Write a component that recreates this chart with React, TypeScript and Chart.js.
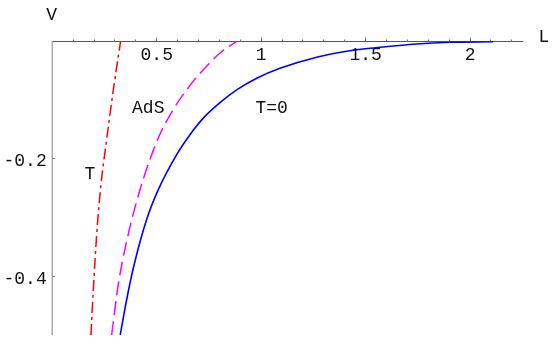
import { useEffect, useRef } from "react";
import { Chart, registerables } from "chart.js";

Chart.register(...registerables);

// T=0 curve (solid blue)
const t0L = [0.325, 0.356, 0.388, 0.452, 0.507, 0.5955, 0.659, 0.7228, 0.8028, 0.8827, 0.9785, 1.09, 1.266, 1.425, 1.584, 1.744, 1.904, 2.11];
const t0V = [-0.5, -0.44, -0.386, -0.303, -0.253, -0.193, -0.159, -0.1308, -0.1045, -0.0828, -0.0629, -0.0459, -0.027, -0.016, -0.0097, -0.0046, -0.0017, -0.0007];

// AdS curve (dashed magenta)
const adsL = [0.284, 0.316, 0.356, 0.42, 0.507, 0.579, 0.627, 0.675, 0.731, 0.803, 0.883];
const adsV = [-0.5, -0.414, -0.3405, -0.2527, -0.165, -0.1162, -0.0907, -0.068, -0.0455, -0.0199, 0];

// T curve (dash-dot red)
const tL = [0.185, 0.196, 0.2125, 0.233, 0.26, 0.292, 0.327];
const tV = [-0.5, -0.4255, -0.329, -0.244, -0.168, -0.083, 0];

// Axis ticks
const xMinorTicks = [0.1, 0.2, 0.3, 0.4, 0.5, 0.6, 0.7, 0.8, 0.9, 1, 1.1, 1.2, 1.3, 1.4, 1.5, 1.6, 1.7, 1.8, 1.9, 2, 2.1, 2.2];
const xTickValues = [0.5, 1, 1.5, 2];
const xTickLabels = ["0.5", "1", "1.5", "2"];
const yTickValues = [-0.2, -0.4];
const yTickLabels = ["-0.2", "-0.4"];

// In-plot labels (center x, baseline y in data units)
const labelTexts = ["AdS", "T=0", "T"];
const labelL = [0.4595, 1.05, 0.1805];
const labelV = [-0.1223, -0.1223, -0.234];

const FONT = '18px "Liberation Mono", "Courier New", monospace';

const overlay = {
  id: "overlay",
  beforeDatasetsDraw(chart: any) {
    const ctx = chart.ctx as CanvasRenderingContext2D;
    const xs = chart.scales.x;
    const ys = chart.scales.y;
    const x0 = xs.getPixelForValue(0);
    const y0 = ys.getPixelForValue(0);
    const yb = ys.getPixelForValue(-0.5);
    const xr = chart.chartArea.right;
    ctx.save();
    // x axis
    const yl = Math.round(y0 - 0.5) + 0.5;
    ctx.strokeStyle = "#555";
    ctx.lineWidth = 1;
    ctx.beginPath();
    ctx.moveTo(x0, yl);
    ctx.lineTo(xr, yl);
    ctx.stroke();
    // x ticks
    ctx.strokeStyle = "#777";
    for (const v of xMinorTicks) {
      const px = Math.round(xs.getPixelForValue(v) - 0.5) + 0.5;
      const major = xTickValues.some((t) => Math.abs(t - v) < 1e-9);
      ctx.beginPath();
      ctx.moveTo(px, yl);
      ctx.lineTo(px, yl - (major ? 4 : 2));
      ctx.stroke();
    }
    // y axis
    ctx.strokeStyle = "#aaa";
    ctx.lineWidth = 1.5;
    ctx.beginPath();
    ctx.moveTo(x0, y0);
    ctx.lineTo(x0, yb);
    ctx.stroke();
    ctx.lineWidth = 1;
    ctx.strokeStyle = "#888";
    for (const v of yTickValues) {
      const py = Math.round(ys.getPixelForValue(v) - 0.5) + 0.5;
      ctx.beginPath();
      ctx.moveTo(x0, py);
      ctx.lineTo(x0 + 3, py);
      ctx.stroke();
    }
    // tick labels
    ctx.fillStyle = "#111";
    ctx.font = FONT;
    ctx.textBaseline = "alphabetic";
    ctx.textAlign = "center";
    xTickValues.forEach((v, i) => {
      ctx.fillText(xTickLabels[i], xs.getPixelForValue(v), y0 + 19);
    });
    ctx.textAlign = "right";
    yTickValues.forEach((v, i) => {
      ctx.fillText(yTickLabels[i], x0 - 5.6, ys.getPixelForValue(v) + 7.4);
    });
    // axis names
    ctx.textAlign = "center";
    ctx.fillText("V", x0 - 0.6, y0 - 21.5);
    ctx.fillText("L", xr + 20.7, y0 + 0.4);
    ctx.restore();
  },
  afterDatasetsDraw(chart: any) {
    const ctx = chart.ctx as CanvasRenderingContext2D;
    const xs = chart.scales.x;
    const ys = chart.scales.y;
    ctx.save();
    ctx.fillStyle = "#111";
    ctx.font = FONT;
    ctx.textAlign = "center";
    ctx.textBaseline = "alphabetic";
    labelTexts.forEach((t, i) => {
      ctx.fillText(t, xs.getPixelForValue(labelL[i]), ys.getPixelForValue(labelV[i]));
    });
    ctx.restore();
  },
};

const toPts = (xs: number[], ys: number[]) => xs.map((x, i) => ({ x, y: ys[i] }));

export default function App() {
  const ref = useRef<HTMLCanvasElement>(null);
  useEffect(() => {
    document.body.style.margin = "0";
    const chart = new Chart(ref.current!, {
      type: "scatter",
      data: {
        datasets: [
          {
            data: toPts(t0L, t0V),
            showLine: true,
            borderColor: "#0000ff",
            borderWidth: 1.6,
            pointRadius: 0,
            cubicInterpolationMode: "monotone",
          },
          {
            data: toPts(adsL, adsV),
            showLine: true,
            borderColor: "#ff00ff",
            borderWidth: 1.5,
            borderDash: [14, 6],
            pointRadius: 0,
            cubicInterpolationMode: "monotone",
          },
          {
            data: toPts(tL, tV),
            showLine: true,
            borderColor: "#ff0000",
            borderWidth: 1.5,
            borderDash: [11, 4, 3, 4],
            pointRadius: 0,
            cubicInterpolationMode: "monotone",
          },
        ],
      } as any,
      options: {
        animation: false,
        responsive: false,
        events: [],
        layout: { padding: { left: 52.3, right: 30.7, top: 41.3, bottom: 11 } },
        scales: {
          x: { type: "linear", min: 0, max: 2.255, display: false },
          y: { type: "linear", min: -0.5, max: 0, display: false },
        },
        plugins: { legend: { display: false }, tooltip: { enabled: false } },
      },
      plugins: [overlay],
    });
    return () => chart.destroy();
  }, []);
  return (
    <div style={{ width: 554, height: 346 }}>
      <canvas ref={ref} width={554} height={346} style={{ display: "block" }} />
    </div>
  );
}
